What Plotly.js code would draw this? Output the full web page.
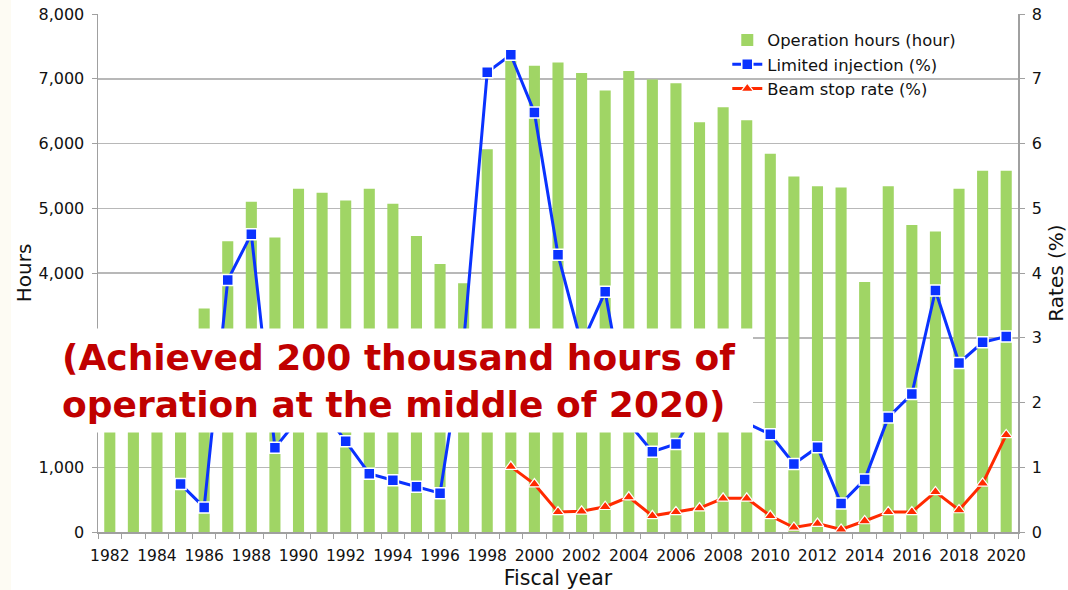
<!DOCTYPE html>
<html>
<head>
<meta charset="utf-8">
<script src="https://cdn.plot.ly/plotly-3.0.1.min.js"></script>
<style>
  html, body { margin: 0; padding: 0; background: #ffffff; }
  #chart { width: 1068px; height: 590px; }
</style>
</head>
<body>
<div id="chart"></div>
<script>
const years = [1982,1983,1984,1985,1986,1987,1988,1989,1990,1991,1992,1993,1994,1995,1996,1997,1998,1999,2000,2001,2002,2003,2004,2005,2006,2007,2008,2009,2010,2011,2012,2013,2014,2015,2016,2017,2018,2019,2020];

const operationHours = [2400,2800,3000,3100,3450,4490,5100,4550,5300,5240,5120,5300,5070,4570,4140,3840,5910,7280,7200,7250,7090,6820,7120,6990,6930,6330,6560,6360,5840,5490,5340,5320,3860,5340,4740,4640,5300,5580,5580];

const limitedInjection = [null,null,null,0.74,0.38,3.89,4.60,1.30,1.75,1.90,1.40,0.90,0.80,0.70,0.60,2.93,7.10,7.37,6.48,4.28,2.90,3.71,1.68,1.24,1.36,1.95,1.90,1.68,1.51,1.05,1.31,0.44,0.81,1.77,2.13,3.73,2.61,2.93,3.02];

const beamStopRate = [null,null,null,null,null,null,null,null,null,null,null,null,null,null,null,null,null,1.01,0.74,0.31,0.32,0.39,0.54,0.25,0.31,0.37,0.52,0.52,0.25,0.07,0.13,0.04,0.17,0.31,0.31,0.62,0.34,0.75,1.50];

const xTickYears = [1982,1984,1986,1988,1990,1992,1994,1996,1998,2000,2002,2004,2006,2008,2010,2012,2014,2016,2018,2020];
const leftTicks = [0,1000,2000,3000,4000,5000,6000,7000,8000];
// 2,000 and 3,000 lie under the white note box in the reference, so they show no label
const leftTickText = ['0','1,000','','','4,000','5,000','6,000','7,000','8,000'];
const rightTicks = [0,1,2,3,4,5,6,7,8];

const FONT = 'DejaVu Sans, sans-serif';

const traces = [
  {
    type: 'bar', name: 'Operation hours (hour)',
    x: years, y: operationHours, yaxis: 'y',
    marker: { color: '#a0d565' },
    hoverinfo: 'x+y'
  },
  {
    type: 'scatter', mode: 'lines+markers', name: 'Limited injection (%)',
    x: years, y: limitedInjection, yaxis: 'y2',
    line: { color: '#0a32ff', width: 3 },
    marker: { symbol: 'square', size: 11, color: '#0a32ff', line: { color: '#ffffff', width: 1.5 } },
    connectgaps: false
  },
  {
    type: 'scatter', mode: 'lines+markers', name: 'Beam stop rate (%)',
    x: years, y: beamStopRate, yaxis: 'y2',
    line: { color: '#ff2a00', width: 3 },
    marker: { symbol: 'triangle-up', size: 11, color: '#ff2a00', line: { color: '#ffffff', width: 1.2 } }
  }
];

const layout = {
  width: 1068, height: 590,
  margin: { l: 98, r: 50, t: 14, b: 58 },
  paper_bgcolor: '#ffffff', plot_bgcolor: '#ffffff',
  font: { family: FONT, color: '#111111', size: 16 },
  bargap: 0.53,
  showlegend: true,
  legend: {
    x: 0.684, y: 0.983, xanchor: 'left', yanchor: 'top',
    bgcolor: 'rgba(255,255,255,0)', borderwidth: 0,
    font: { family: FONT, size: 16.4, color: '#111111' },
    traceorder: 'normal'
  },
  xaxis: {
    type: 'linear',
    range: [1981.5, 2020.5],
    tickmode: 'array', tickvals: xTickYears, ticktext: xTickYears.map(String),
    ticks: 'outside', ticklen: 9, tickcolor: 'rgba(0,0,0,0)',
    minor: { ticks: 'outside', ticklen: 5, tickcolor: '#a0a0a0', tickwidth: 1, tickmode: 'linear', tick0: 1981.5, dtick: 1, showgrid: false },
    showgrid: false, zeroline: false,
    showline: true, linecolor: '#a0a0a0', linewidth: 1.5,
    tickfont: { family: FONT, size: 15.5, color: '#111111' },
    title: { text: 'Fiscal year', font: { family: FONT, size: 20.5, color: '#111111' }, standoff: 7 },
    fixedrange: true
  },
  yaxis: {
    range: [0, 8000],
    tickmode: 'array', tickvals: leftTicks, ticktext: leftTickText,
    ticks: 'outside', ticklen: 5, tickcolor: '#a0a0a0',
    ticklabelstandoff: 4,
    showgrid: true, gridcolor: '#b8b8b8', gridwidth: 1.5,
    zeroline: false,
    showline: true, linecolor: '#a0a0a0', linewidth: 1.5,
    tickfont: { family: FONT, size: 16, color: '#111111' },
    title: { text: 'Hours', font: { family: FONT, size: 20, color: '#111111' } },
    fixedrange: true
  },
  yaxis2: {
    overlaying: 'y', side: 'right',
    range: [0, 8],
    tickmode: 'array', tickvals: rightTicks,
    ticks: 'outside', ticklen: 5, tickcolor: '#a0a0a0',
    ticklabelstandoff: 4,
    showgrid: false, zeroline: false,
    showline: true, linecolor: '#a0a0a0', linewidth: 1.5,
    tickfont: { family: FONT, size: 16, color: '#111111' },
    title: { text: 'Rates (%)', font: { family: FONT, size: 20, color: '#111111' }, standoff: 14 },
    fixedrange: true
  },
  shapes: [
    {
      type: 'rect', xref: 'paper', yref: 'paper', layer: 'above',
      x0: -98/920, x1: -87/920, y0: -58/518, y1: 1 + 14/518,
      fillcolor: '#fdfbf3', line: { width: 0 }
    },
    {
      type: 'rect', xref: 'paper', yref: 'paper', layer: 'above',
      x0: (30-98)/920, x1: (753-98)/920, y0: (532-432.5)/518, y1: (532-328.5)/518,
      fillcolor: '#ffffff', line: { width: 0 }
    }
  ],
  annotations: [
    {
      xref: 'paper', yref: 'paper',
      x: (60-98)/920, y: (532-380.5)/518, xanchor: 'left', yanchor: 'middle',
      align: 'left', showarrow: false,
      text: '<b>(Achieved 200 thousand hours of<br>operation at the middle of 2020)</b>',
      font: { family: FONT, size: 36, color: '#c00000' }
    }
  ]
};

Plotly.newPlot('chart', traces, layout, { displayModeBar: false, staticPlot: true });
</script>
</body>
</html>
